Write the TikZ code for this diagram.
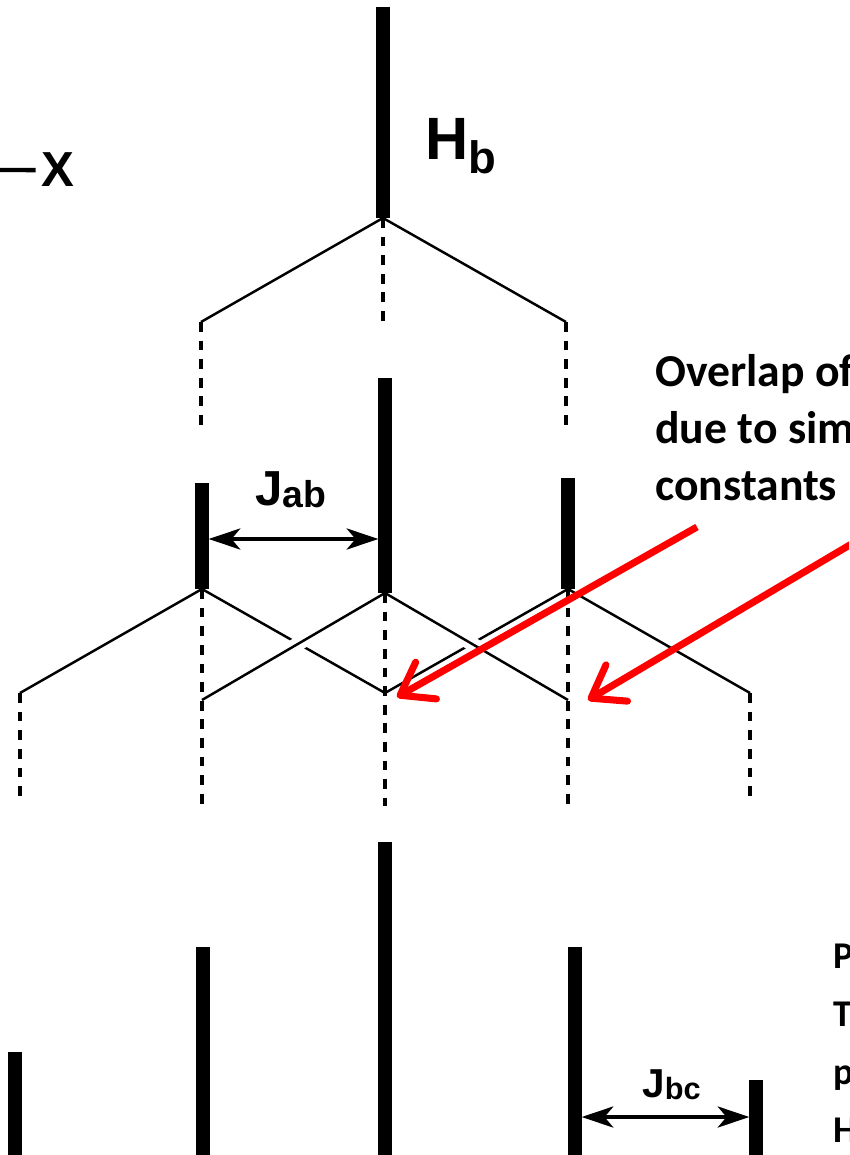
\documentclass[tikz,border=0pt]{standalone}
\usepackage{fontspec}
\setmainfont{Liberation Sans}
\newfontfamily\notefont{Carlito}
\usetikzlibrary{arrows.meta}
\newcommand\sublow[2][0.06em]{\raisebox{-#1}{\scalebox{0.76}{#2}}}

\begin{document}
\begin{tikzpicture}[
  x=0.02cm, y=-0.02cm,
  line join=miter,
  peak/.style={draw=black, line width=7.6pt},
  split/.style={draw=black, line width=1.4pt},
  hidden/.style={split, preaction={draw=white, line width=8pt}},
  guide/.style={draw=black, line width=2pt, dash pattern=on 5.6pt off 5pt},
  coupling/.style={{Stealth[length=18pt,width=12pt,inset=5pt]}-{Stealth[length=18pt,width=12pt,inset=5pt]},
    line width=2.2pt, shorten <=3.8pt, shorten >=3.8pt},
  pointer/.style={draw=red, line width=4pt, -{Straight Barb[length=17pt,width=24pt,round]}},
  letter/.style={inner sep=0pt, anchor=base west, font=\bfseries\fontsize{#1}{#1}\selectfont},
  note/.style 2 args={inner sep=0pt, anchor=base west, align=left, font=\notefont\bfseries\fontsize{#1}{#2}\selectfont}
]

\useasboundingbox (0,0) rectangle (849,1155);
\clip (0,0) rectangle (849,1155);

% Uncoupled H_b line and first splitting.
\coordinate (hbTop) at (383,7);
\coordinate (hb) at (383,218);
\coordinate (hbL) at (201,322);
\coordinate (hbR) at (566,322);
\coordinate (hbGuide) at (383,325);
\coordinate (hbLEnd) at (201,428);
\coordinate (hbREnd) at (566,428);

\draw[split] (hbL) -- (hb) -- (hbR);
\draw[guide] (hb) -- (hbGuide);
\draw[guide] (hbL) -- (hbLEnd);
\draw[guide] (hbR) -- (hbREnd);
\draw[peak] (hbTop) -- (hb);

\node[letter=34] (hbLabel) at (425,160) {H\sublow[0.22em]{b}};

% X axis mark.
\node[letter=28] (xLabel) at (41,187) {X};
\coordinate (xStart) at (0,170);
\draw[line width=2.5pt] (xStart) -- ([xshift=-3pt]xLabel.west);

% Doublet after J_ab.
\coordinate (aTop) at (202,483);
\coordinate (a) at (202,589);
\coordinate (bTop) at (385,378);
\coordinate (b) at (385,593);
\coordinate (cTop) at (568,478);
\coordinate (c) at (568,589);

% Second splitting (J_bc).
\coordinate (aL) at (20,693);
\coordinate (aR) at (385,693);
\coordinate (bL) at (202,700);
\coordinate (bR) at (568,700);
\coordinate (cL) at (385,693);
\coordinate (cR) at (750,693);

\draw[split] (aL) -- (a) -- (aR);
\draw[split] (cL) -- (c) -- (cR);
\draw[hidden] (bL) -- (b) -- (bR);

\coordinate (aLEnd) at (20,798);
\coordinate (aEnd) at (202,806);
\coordinate (bEnd) at (385,806);
\coordinate (cEnd) at (568,806);
\coordinate (cREnd) at (750,800);
\draw[guide] (aL) -- (aLEnd);
\draw[guide] (a) -- (aEnd);
\draw[guide] (b) -- (bEnd);
\draw[guide] (c) -- (cEnd);
\draw[guide] (cR) -- (cREnd);

\draw[peak] (aTop) -- (a);
\draw[peak] (bTop) -- (b);
\draw[peak] (cTop) -- (c);

\coordinate (jabL) at (202,539);
\coordinate (jabR) at (385,539);
\draw[coupling] (jabL) -- (jabR);
\node[letter=28] (jabLabel) at (255,505) {J\sublow{ab}};

% Resulting pattern.
\coordinate (dTop) at (15,1052);
\coordinate (dBot) at (15,1160);
\coordinate (eTop) at (203,947);
\coordinate (eBot) at (203,1160);
\coordinate (fTop) at (385,842);
\coordinate (fBot) at (385,1160);
\coordinate (gTop) at (575,947);
\coordinate (gBot) at (575,1160);
\coordinate (hTop) at (756,1080);
\coordinate (hBot) at (756,1160);
\draw[peak] (dTop) -- (dBot);
\draw[peak] (eTop) -- (eBot);
\draw[peak] (fTop) -- (fBot);
\draw[peak] (gTop) -- (gBot);
\draw[peak] (hTop) -- (hBot);

\coordinate (jbcL) at (575,1117);
\coordinate (jbcR) at (756,1117);
\draw[coupling] (jbcL) -- (jbcR);
\node[letter=23] (jbcLabel) at (642,1097) {J\sublow{bc}};

% Notes (base = last line).
\node[note={26}{32.3}] (overlapNote) at (655,500) {Overlap of\\due to sim\\constants};
\node[note={21.5}{33}] (sideNote) at (833,1142) {P\\T\\p\\H};

\coordinate (ovStart1) at (697,527);
\coordinate (ovTip1) at (397,697);
\coordinate (ovStart2) at (870,533);
\coordinate (ovTip2) at (588,700);
\draw[pointer] (ovStart1) -- (ovTip1);
\draw[pointer] (ovStart2) -- (ovTip2);

\end{tikzpicture}
\end{document}
